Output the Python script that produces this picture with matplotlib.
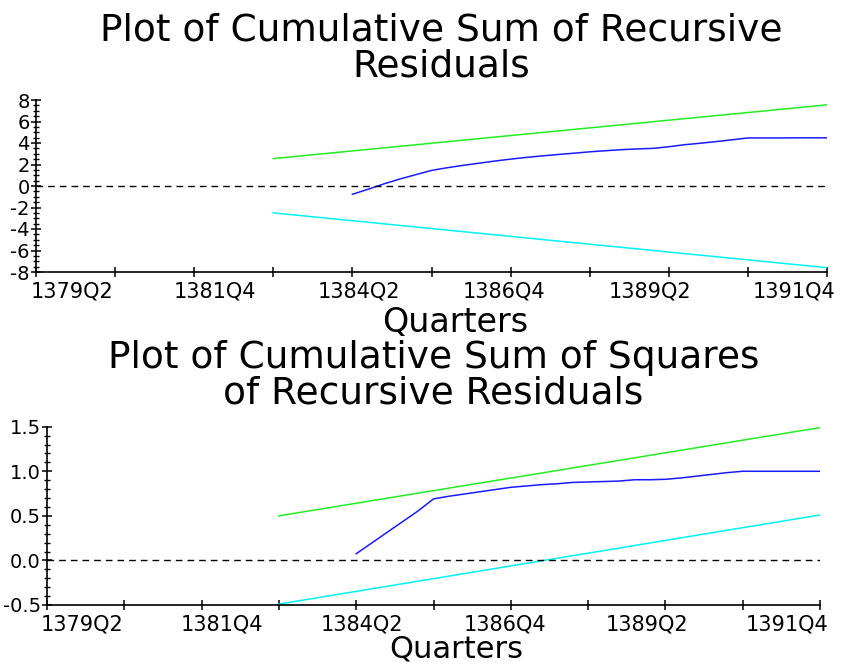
import matplotlib
matplotlib.use('Agg')
import matplotlib.pyplot as plt
from matplotlib.ticker import MultipleLocator

# sample runs 1379Q2 .. 1391Q4, positions are quarter counts from 1379Q2
def q_index(label):
    return (int(label[:4]) - 1379) * 4 + int(label[-1]) - 2

tick_labels = ['1379Q2', '1381Q4', '1384Q2', '1386Q4', '1389Q2', '1391Q4']
# where the labels sit under the axis (they drift like in the original output)
label_pos = [2.3, 11.3, 20.4, 29.6, 38.8, 47.9]

first_q = '1384Q2'
cusum = [-0.77, -0.30, 0.20, 0.65, 1.05, 1.45, 1.70, 1.92, 2.12, 2.32,
         2.50, 2.66, 2.80, 2.93, 3.05, 3.18, 3.28, 3.38, 3.45, 3.50,
         3.65, 3.84, 3.98, 4.13, 4.30, 4.47, 4.47, 4.47, 4.48, 4.48, 4.48]
cusumsq = [0.075, 0.195, 0.315, 0.435, 0.555, 0.69, 0.72, 0.745, 0.77, 0.795,
           0.82, 0.835, 0.85, 0.86, 0.875, 0.88, 0.885, 0.89, 0.905, 0.905,
           0.91, 0.925, 0.945, 0.965, 0.985, 1.0, 1.0, 1.0, 1.0, 1.0, 1.0]

bound_q = ['1383Q1', '1391Q4']
cusum_upper = [2.55, 7.55]
cusum_lower = [-2.50, -7.60]
cusumsq_upper = [0.50, 1.49]
cusumsq_lower = [-0.49, 0.51]

x_line = [q_index(first_q) + i for i in range(len(cusum))]
x_bound = [q_index(q) for q in bound_q]

GREEN = '#22ee22'
BLUE = '#1a1aff'
CYAN = '#00f2f2'

fig = plt.figure(figsize=(8.47, 6.66), dpi=100)
ax1 = fig.add_axes([36/847, 1 - 272/666, 791/847, 172/666])
ax2 = fig.add_axes([47/847, 1 - 605/666, 773/847, 178.3/666])

panels = [
    (ax1, cusum, cusum_upper, cusum_lower, (-8, 8), 2, 0.5, '{:.0f}',
     'Plot of Cumulative Sum of Recursive\nResiduals', 0.512, -0.2, 24),
    (ax2, cusumsq, cusumsq_upper, cusumsq_lower, (-0.5, 1.5), 0.5, 0.1, '{:.1f}',
     'Plot of Cumulative Sum of Squares\nof Recursive Residuals', 0.5, -0.165, 22),
]

for ax, series, up, lo, ylim, ymaj, ymin, fmt, title, tx, ly, lsz in panels:
    ax.plot(x_bound, up, color=GREEN, lw=1.1)
    ax.plot(x_bound, lo, color=CYAN, lw=1.1)
    ax.plot(x_line, series, color=BLUE, lw=1.1)
    ax.axhline(0, color='black', lw=1.0, ls=(0, (4.8, 3.6)))

    ax.set_xlim(0, q_index('1391Q4'))
    ax.set_ylim(*ylim)
    for s in ['top', 'right']:
        ax.spines[s].set_visible(False)
    for s in ['left', 'bottom']:
        ax.spines[s].set_linewidth(1.2)

    ax.xaxis.set_major_locator(MultipleLocator(5))
    ax.tick_params(axis='x', which='major', direction='inout', length=7,
                   width=1.1, labelbottom=False)
    ax.set_xticks(label_pos, tick_labels, minor=True)
    ax.tick_params(axis='x', which='minor', length=0, pad=7, labelsize=15)

    ax.yaxis.set_major_locator(MultipleLocator(ymaj))
    ax.yaxis.set_minor_locator(MultipleLocator(ymin))
    ax.set_yticks(ax.get_yticks())
    ax.set_yticklabels([fmt.format(v) for v in ax.get_yticks()])
    ax.set_ylim(*ylim)
    ax.tick_params(axis='y', which='major', direction='inout', length=7,
                   width=1.1, pad=1, labelsize=14)
    ax.tick_params(axis='y', which='minor', direction='inout', length=4,
                   width=1.0)

    ax.set_title(title, fontsize=27, linespacing=0.98, pad=17, x=tx)
    ax.set_xlabel('Quarters', fontsize=lsz)
    ax.xaxis.set_label_coords(0.53, ly)

fig.savefig('out.png', dpi=100)
